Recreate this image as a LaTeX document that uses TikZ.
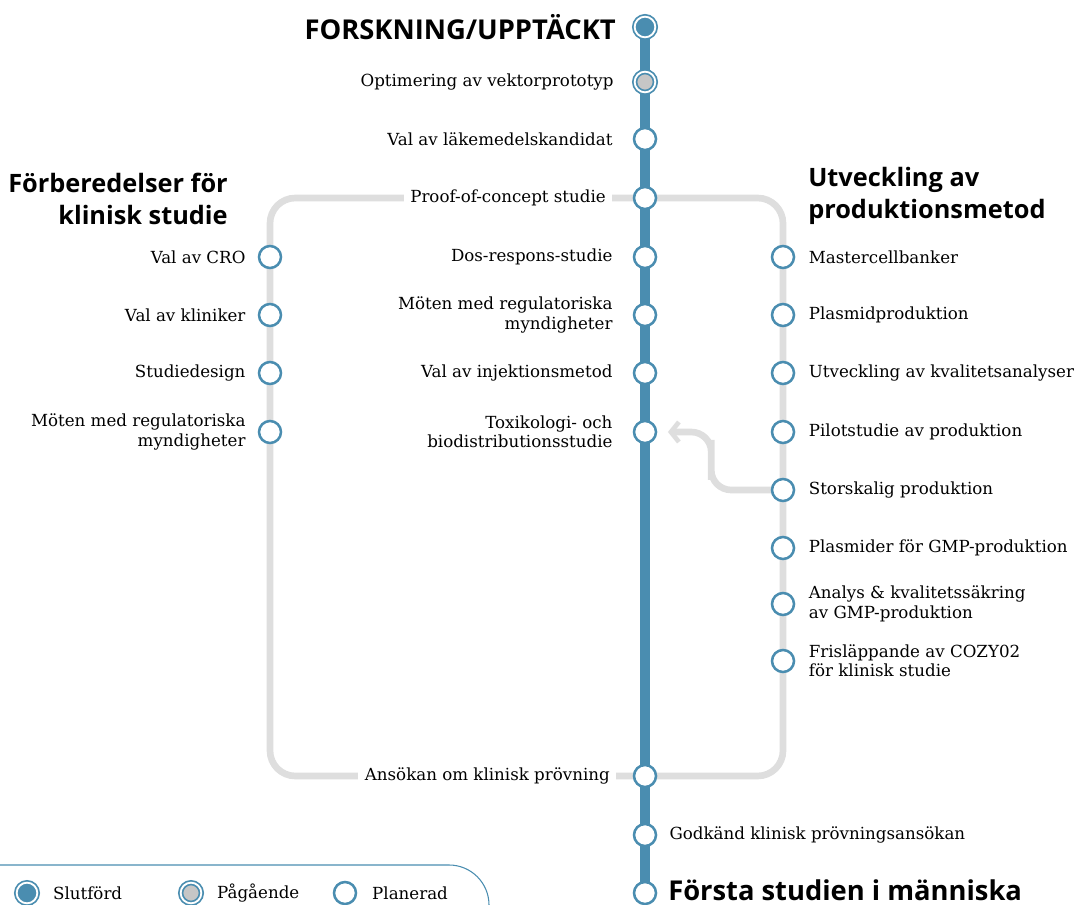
\documentclass[tikz,border=0pt]{standalone}
\usepackage{fontspec}
\setmainfont{DejaVu Serif}
\newfontfamily\headfont{Open Sans}
\usetikzlibrary{positioning,arrows.meta,calc,backgrounds}

\definecolor{lineblue}{HTML}{4A8DB0}
\definecolor{linegray}{HTML}{DEDEDE}
\definecolor{dotgray}{HTML}{C6C6C6}

\tikzset{
  stop/.style={circle,draw=lineblue,line width=1.9pt,fill=white,
    minimum size=16.5pt,inner sep=0pt},
  donestop/.style={stop,fill=lineblue,minimum size=15.5pt,line width=1.3pt,double=white,double distance=1.4pt},
  busystop/.style={donestop,fill=dotgray},
  lbl/.style={font=\fontsize{12.5}{14.5}\selectfont,inner sep=0pt},
  lbll/.style={lbl,align=right},
  lblr/.style={lbl,align=left},
  heading/.style={font=\headfont\bfseries\fontsize{19}{24}\selectfont,inner sep=0pt},
  bigheading/.style={heading,font=\headfont\bfseries\fontsize{20.5}{24}\selectfont},
  mainline/.style={lineblue,line width=7.5pt},
  branch/.style={linegray,line width=5pt}
}

\begin{document}
\begin{tikzpicture}[x=0.75pt,y=-0.75pt]
  \useasboundingbox (0,0) rectangle (1077,905);

  % main line
  \node[donestop] (m1) at (645,27) {};
  \node[busystop] (m2) at (645,82) {};
  \node[stop] (m3) at (645,139) {};
  \node[stop] (m4) at (645,198) {};
  \node[stop] (m5) at (645,257) {};
  \node[stop] (m6) at (645,315) {};
  \node[stop] (m7) at (645,373) {};
  \node[stop] (m8) at (645,432) {};
  \node[stop] (m9) at (645,776) {};
  \node[stop] (m10) at (645,835) {};
  \node[stop] (m11) at (645,893) {};

  % left branch
  \node[stop] (l1) at (270,257) {};
  \node[stop] (l2) at (270,315) {};
  \node[stop] (l3) at (270,373) {};
  \node[stop] (l4) at (270,432) {};

  % right branch
  \node[stop] (r1) at (783,257) {};
  \node[stop] (r2) at (783,315) {};
  \node[stop] (r3) at (783,373) {};
  \node[stop] (r4) at (783,432) {};
  \node[stop] (r5) at (783,490) {};
  \node[stop] (r6) at (783,548) {};
  \node[stop] (r7) at (783,604) {};
  \node[stop] (r8) at (783,661) {};

  \begin{scope}[on background layer]
    \draw[branch,rounded corners=19pt] (m4.center) -| (l4.center) |- (m9.center);
    \draw[branch,rounded corners=19pt] (m4.center) -| (r8.center) |- (m9.center);
    \draw[branch,rounded corners=15pt,-{Straight Barb[length=6pt,width=15pt,line width=3.5pt]}]
      (r5.center) -| ($(r5)!0.52!(m8)$) |- ([xshift=8pt]m8.east);
    \draw[mainline] (m1.center) -- (m11.center);
  \end{scope}

  % labels
  \node[bigheading,anchor=east] (h1) at (616,27) {FORSKNING/UPPTÄCKT};
  \node[lbll,left=15pt of m2] (t2) {Optimering av vektorprototyp};
  \node[lbll,left=15pt of m3] (t3) {Val av läkemedelskandidat};
  \node[lbll,left=15pt of m4,fill=white,inner xsep=5pt,inner ysep=4pt] (t4) {Proof-of-concept studie};
  \node[lbll,left=15pt of m5] (t5) {Dos-respons-studie};
  \node[lbll,left=15pt of m6] (t6) {Möten med regulatoriska\\myndigheter};
  \node[lbll,left=15pt of m7] (t7) {Val av injektionsmetod};
  \node[lbll,left=15pt of m8] (t8) {Toxikologi- och\\biodistributionsstudie};
  \node[lbll,left=12pt of m9,fill=white,inner xsep=5pt,inner ysep=4pt] (t9) {Ansökan om klinisk prövning};
  \node[lblr,right=9pt of m10] (t10) {Godkänd klinisk prövningsansökan};
  \node[bigheading,anchor=base west] (h11) at (668,900) {Första studien i människa};

  \node[heading,align=right,anchor=south east] (hl) at (228,225) {Förberedelser för\\klinisk studie};
  \node[lbll,left=9pt of l1] (s1) {Val av CRO};
  \node[lbll,left=9pt of l2] (s2) {Val av kliniker};
  \node[lbll,left=9pt of l3] (s3) {Studiedesign};
  \node[lbll,left=9pt of l4] (s4) {Möten med regulatoriska\\myndigheter};

  \node[heading,align=left,anchor=south west] (hr) at (808,225) {Utveckling av\\produktionsmetod};
  \node[lblr,right=10pt of r1] (u1) {Mastercellbanker};
  \node[lblr,right=10pt of r2] (u2) {Plasmidproduktion};
  \node[lblr,right=10pt of r3] (u3) {Utveckling av kvalitetsanalyser};
  \node[lblr,right=10pt of r4] (u4) {Pilotstudie av produktion};
  \node[lblr,right=10pt of r5] (u5) {Storskalig produktion};
  \node[lblr,right=10pt of r6] (u6) {Plasmider för GMP-produktion};
  \node[lblr,right=10pt of r7] (u7) {Analys \& kvalitetssäkring\\av GMP-produktion};
  \node[lblr,right=10pt of r8] (u8) {Frisläppande av COZY02\\för klinisk studie};

  % legend
  \draw[lineblue,line width=0.8pt,rounded corners=30pt] (-10,865) -| (489,915);
  \node[donestop] (k1) at (27,893) {};
  \node[lblr,right=11pt of k1] (kt1) {Slutförd};
  \node[busystop] (k2) at (191,893) {};
  \node[lblr,right=11pt of k2] (kt2) {Pågående};
  \node[stop] (k3) at (345,893) {};
  \node[lblr,right=11pt of k3] (kt3) {Planerad};
\end{tikzpicture}
\end{document}
